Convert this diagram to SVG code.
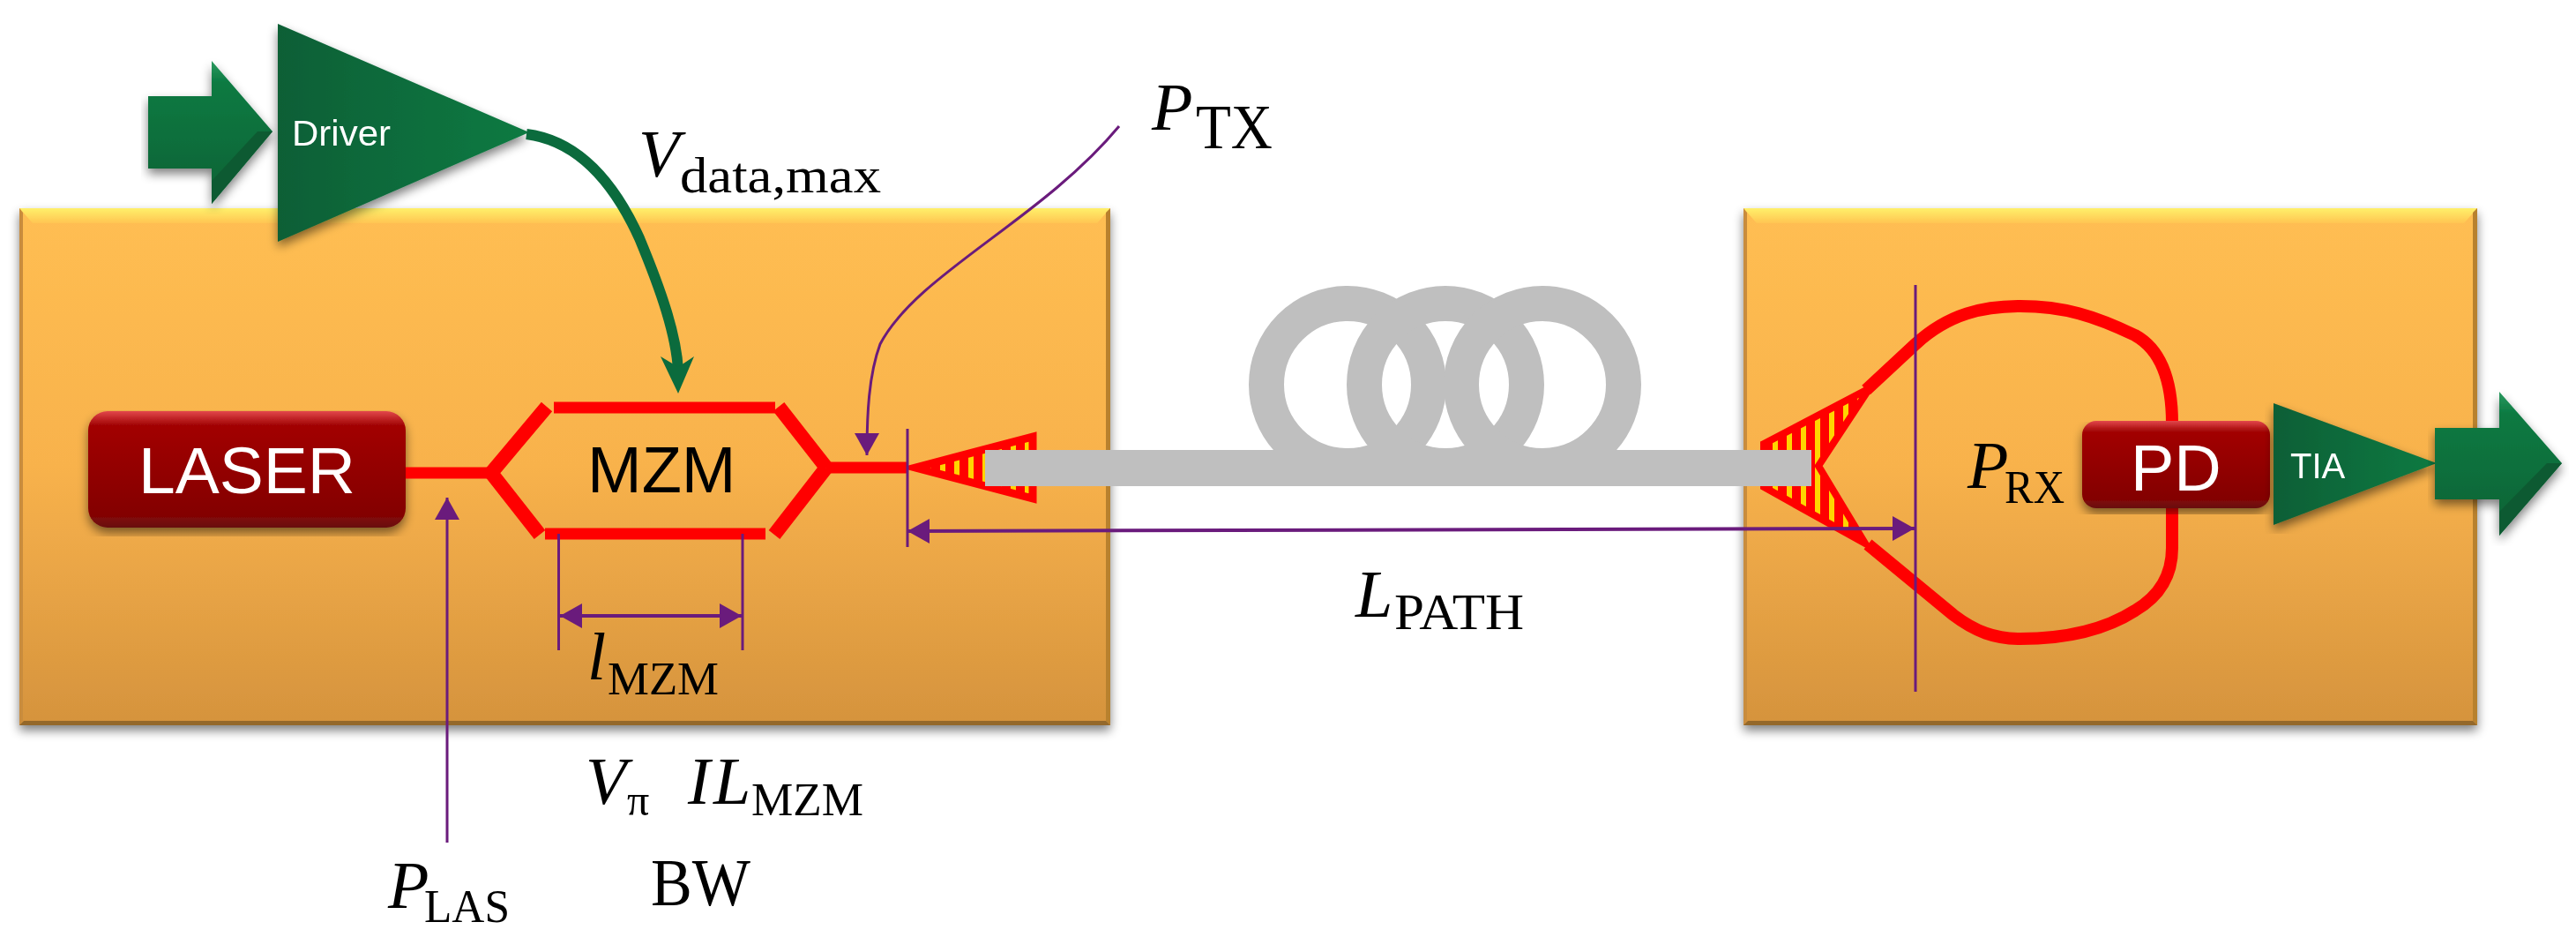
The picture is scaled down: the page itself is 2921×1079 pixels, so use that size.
<svg xmlns="http://www.w3.org/2000/svg" width="2921" height="1079" viewBox="0 0 2921 1079">
<style>
.serif{font-family:"Liberation Serif","DejaVu Serif",serif;fill:#000}
.it{font-style:italic;font-size:76px}
.sub{font-size:53px;font-style:normal}
.sans{font-family:"Liberation Sans",Arial,sans-serif;fill:#fff}
.big{font-size:75px}
.small{font-size:40px}
.pur{fill:none;stroke:#6a1b7c;stroke-width:3}
.red{fill:none;stroke:#f00;stroke-width:14}
.slant{fill:none;stroke:#f00;stroke-width:16}
.bar{fill:none;stroke:#f00;stroke-width:13}
.bev-t{fill:url(#bevt)}
.bev-l{fill:#c98c3c}
.bev-r{fill:#b8812f}
.bev-b{fill:#94682c}
.fiber{fill:none;stroke:#bfbfbf;stroke-width:40}
</style>
<defs>
<linearGradient id="box" x1="0" y1="0" x2="0" y2="1"><stop offset="0" stop-color="#ffbe52"/><stop offset="0.5" stop-color="#f8b24c"/><stop offset="1" stop-color="#d5933d"/></linearGradient>
<linearGradient id="bevt" x1="0" y1="0" x2="0" y2="1"><stop offset="0" stop-color="#fff06a"/><stop offset="1" stop-color="#ffc552"/></linearGradient>
<linearGradient id="redbox" x1="0" y1="0" x2="0" y2="1"><stop offset="0" stop-color="#e2474b"/><stop offset="0.12" stop-color="#a20505"/><stop offset="0.9" stop-color="#830505"/><stop offset="1" stop-color="#681010"/></linearGradient>
<linearGradient id="green" x1="0" y1="0" x2="1" y2="0"><stop offset="0" stop-color="#0a5f36"/><stop offset="1" stop-color="#0b7a42"/></linearGradient>
<linearGradient id="shaft" x1="0" y1="0" x2="0" y2="1"><stop offset="0" stop-color="#2c9a60"/><stop offset="0.15" stop-color="#0b7a42"/><stop offset="1" stop-color="#0a6235"/></linearGradient>
<pattern id="hatch" width="16" height="10" patternUnits="userSpaceOnUse"><rect width="16" height="10" fill="#ffd500"/><rect width="10" height="10" fill="#f00"/></pattern>
<filter id="sh" x="-5%" y="-5%" width="110%" height="112%"><feGaussianBlur in="SourceAlpha" stdDeviation="6"/><feOffset dy="6"/><feComponentTransfer><feFuncA type="linear" slope="0.5"/></feComponentTransfer><feMerge><feMergeNode/><feMergeNode in="SourceGraphic"/></feMerge></filter>
<marker id="ah" markerUnits="userSpaceOnUse" markerWidth="26" markerHeight="30" refX="25" refY="14" orient="auto-start-reverse"><path d="M0,0 L25,14 L0,28 Z" fill="#6a1b7c"/></marker>
</defs>

<g id="box-tx" filter="url(#sh)">
<rect x="22" y="236" width="1237" height="586" fill="url(#box)"/>
<path class="bev-t" d="M22,236 H1259 L1244,253 H37 Z"/>
<path class="bev-l" d="M22,236 V822 L26,817 V241 Z"/>
<path class="bev-r" d="M1259,236 V822 L1254,817 V241 Z"/>
<path class="bev-b" d="M22,822 H1259 L1254,817 H27 Z"/>
</g>
<g id="box-rx" filter="url(#sh)">
<rect x="1977" y="236" width="832" height="586" fill="url(#box)"/>
<path class="bev-t" d="M1977,236 H2809 L2794,253 H1992 Z"/>
<path class="bev-l" d="M1977,236 V822 L1981,817 V241 Z"/>
<path class="bev-r" d="M2809,236 V822 L2804,817 V241 Z"/>
<path class="bev-b" d="M1977,822 H2809 L2804,817 H1982 Z"/>
</g>

<g id="fiber-coil">
<circle class="fiber" cx="1528" cy="436" r="92"/>
<circle class="fiber" cx="1639" cy="436" r="92"/>
<circle class="fiber" cx="1749" cy="436" r="92"/>
</g>

<g id="input-arrow" filter="url(#sh)">
<path d="M168,109 H240 V69 L309,149 L240,231 V191 H168 Z" fill="url(#shaft)"/>
<path d="M240,231 L309,149 L292,149 L240,205 Z" fill="#0a5a31"/>
</g>
<g id="driver" filter="url(#sh)">
<path d="M315,27 L600,150 L315,274 Z" fill="url(#green)"/>
<text class="sans small" x="331" y="165" textLength="112" lengthAdjust="spacingAndGlyphs">Driver</text>
</g>

<g id="laser">
<rect x="100" y="466" width="360" height="132" rx="22" fill="url(#redbox)" filter="url(#sh)"/>
<text class="sans big" x="157" y="559">LASER</text>
</g>

<g id="mzm">
<path class="bar" d="M460,536 H557"/>
<path class="slant" d="M557,536 L620,461 M557,536 L612,606 M883,461 L937,530 M878,606 L937,530"/>
<path class="bar" d="M628,462 H879 M618,605 H868"/>
<path class="bar" d="M937,530 H1030"/>
<text class="sans big" x="666" y="558" style="fill:#000;font-size:74px">MZM</text>
</g>

<g id="tx-taper">
<path d="M1038,530 L1171,495 V565 Z" fill="url(#hatch)" stroke="#f00" stroke-width="9" stroke-linejoin="miter"/>
</g>

<g id="rx-taper">
<path d="M2000,503 L2120,440 L2062,528 L2115,616 L2000,552 Z" fill="url(#hatch)" stroke="#f00" stroke-width="8" stroke-linejoin="miter"/>
<path class="red" d="M2116,442 L2172,390 C2210,355 2250,347 2291,347 C2340,347 2375,358 2421,380 C2450,396 2463,430 2463,480 V621 C2463,650 2450,675 2421,692 C2385,715 2340,724 2291,724 C2262,724 2240,716 2215,697 L2118,617"/>
</g>

<g id="fiber">
<rect x="1117" y="510" width="937" height="41" fill="#bfbfbf"/>
</g>

<g id="pd">
<rect x="2361" y="477" width="213" height="99" rx="16" fill="url(#redbox)" filter="url(#sh)"/>
<text class="sans big" x="2416" y="556" style="font-size:74px">PD</text>
</g>

<g id="tia" filter="url(#sh)">
<path d="M2578,457 L2763,525 L2578,595 Z" fill="url(#green)"/>
<text class="sans small" x="2597" y="542">TIA</text>
</g>

<g id="output-arrow" filter="url(#sh)">
<path d="M2761,485 H2834 V444 L2905,525 L2834,607 V566 H2761 Z" fill="url(#shaft)"/>
<path d="M2834,607 L2905,525 L2888,525 L2834,580 Z" fill="#0a5a31"/>
</g>

<g id="connectors">
<path d="M597,152 C660,160 700,215 725,270 C750,330 767,380 769,420" fill="none" stroke="#0b6b3d" stroke-width="12"/>
<path d="M749,404 L769,446 L787,404 L769,416 Z" fill="#0b6b3d"/>
<path class="pur" d="M1269,143 C1180,250 1040,310 998,390 C985,425 983,470 983,516" marker-end="url(#ah)"/>
<path class="pur" d="M507,955 V564" marker-end="url(#ah)"/>
<path class="pur" d="M1029,486 V620 M2172,323 V784 M633.5,605 V737 M842,605 V737"/>
<path class="pur" d="M1029,602 L2171,599" style="stroke-width:4" marker-start="url(#ah)" marker-end="url(#ah)"/>
<path class="pur" d="M635,698 H841" style="stroke-width:4" marker-start="url(#ah)" marker-end="url(#ah)"/>
</g>

<g id="labels">
<text class="serif it" x="724" y="200">V</text><text class="serif sub" x="771" y="218" textLength="228" lengthAdjust="spacingAndGlyphs" style="font-size:58px">data,max</text>
<text class="serif it" x="1306" y="147">P</text><text class="serif sub" x="1356" y="168" textLength="87" lengthAdjust="spacingAndGlyphs" style="font-size:72px">TX</text>
<text class="serif it" x="2231" y="553">P</text><text class="serif sub" x="2273" y="570" textLength="68" lengthAdjust="spacingAndGlyphs">RX</text>
<text class="serif it" x="666" y="770">l</text><text class="serif sub" x="689" y="787" textLength="126" lengthAdjust="spacingAndGlyphs">MZM</text>
<text class="serif it" x="664" y="911">V</text><text class="serif sub" x="711" y="924" style="font-size:50px">π</text>
<text class="serif it" x="780" y="911">I</text><text class="serif it" x="809" y="911">L</text><text class="serif sub" x="852" y="924" textLength="127" lengthAdjust="spacingAndGlyphs">MZM</text>
<text class="serif it" x="440" y="1029">P</text><text class="serif sub" x="481" y="1045" textLength="97" lengthAdjust="spacingAndGlyphs">LAS</text>
<text class="serif" x="738" y="1026" style="font-size:76px" textLength="113" lengthAdjust="spacingAndGlyphs">BW</text>
<text class="serif it" x="1537" y="699">L</text><text class="serif sub" x="1581" y="713" textLength="147" lengthAdjust="spacingAndGlyphs" style="font-size:56px">PATH</text>
</g>
</svg>
